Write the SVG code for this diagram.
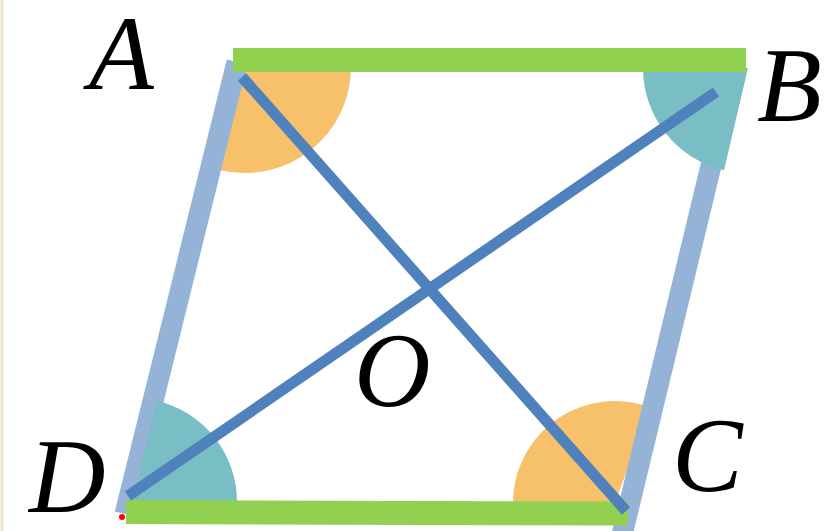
<svg xmlns="http://www.w3.org/2000/svg" width="826" height="531" viewBox="0 0 826 531">
<style>
.side{stroke:#95b3d7;stroke-width:21;fill:none}
.base{stroke:#92d050;stroke-width:24;fill:none}
.diag{stroke:#4f81bd;stroke-width:11;fill:none}
.orange{fill:#f7c16c}
.teal{fill:#78bec4}
.lbl{font-family:"Liberation Serif","Times New Roman",serif;font-style:italic;font-size:106px;fill:#000}
</style>
<rect width="826" height="531" fill="#fff"/>
<line x1="2" y1="0" x2="2" y2="531" stroke="#eee4d2" stroke-width="3"/>
<g id="angles-orange">
<path id="angle-A" class="orange" d="M245,67 L351,67 A106,106 0 0 1 220.8,170.2 Z"/>
<path id="angle-C" class="orange" d="M615,503 L513,503 A102,102 0 0 1 649.9,407.2 Z"/>
</g>
<g id="sides">
<line class="side" x1="237" y1="62" x2="125" y2="514"/>
<line class="side" x1="736" y1="62" x2="622" y2="535"/>
</g>
<g id="angles-teal">
<path id="angle-B" class="teal" d="M748,68 L724,170.2 A105,105 0 0 1 643,68 Z"/>
<path id="angle-D" class="teal" d="M133,502 L156.8,400.7 A104,104 0 0 1 237,502 Z"/>
</g>
<g id="connectors">
<line id="AB" class="base" x1="233" y1="60" x2="746" y2="60"/>
<line id="DC" class="base" x1="126" y1="512" x2="628" y2="513.5"/>
<line id="AC" class="diag" x1="242" y1="77" x2="626" y2="511"/>
<line id="BD" class="diag" x1="716" y1="92" x2="128" y2="496"/>
</g>
<circle cx="122" cy="517" r="3" fill="#ff0000"/>
<g id="A"><text class="lbl" x="89" y="89">A</text></g>
<g id="B"><text class="lbl" x="757" y="121">B</text></g>
<g id="C"><text class="lbl" x="672" y="491">C</text></g>
<g id="D"><text class="lbl" x="29" y="512">D</text></g>
<g id="O"><text class="lbl" x="354" y="406">O</text></g>
</svg>
